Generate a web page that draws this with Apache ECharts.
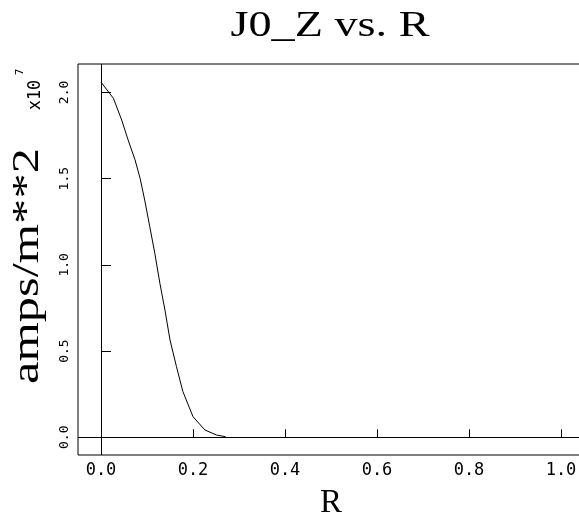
<!DOCTYPE html>
<html>
<head>
<meta charset="utf-8">
<script src="https://cdn.jsdelivr.net/npm/echarts@6/dist/echarts.min.js"></script>
<style>html,body{margin:0;padding:0;background:#fff}#c{width:579px;height:515px}</style>
</head>
<body>
<div id="c"></div>
<script>
// Data
var rValues = [0.0, 0.027, 0.045, 0.059, 0.074, 0.085, 0.095, 0.106, 0.117, 0.128, 0.139, 0.150, 0.164, 0.178, 0.200, 0.226, 0.251, 0.271];
var jzValues = [2.060e7, 1.966e7, 1.840e7, 1.724e7, 1.609e7, 1.502e7, 1.376e7, 1.222e7, 1.067e7, 0.893e7, 0.738e7, 0.564e7, 0.410e7, 0.265e7, 0.119e7, 0.042e7, 0.013e7, 0.003e7];
var xTicks = [0.0, 0.2, 0.4, 0.6, 0.8, 1.0];
var yTicks = [0, 0.5e7, 1.0e7, 1.5e7, 2.0e7];
var titleText = 'J0_Z vs. R';
var xName = 'R';
var yName = 'amps/m**2';
var yExponent = 'x10';
var yExponentPower = '7';

var seriesData = rValues.map(function (r, i) { return [r, jzValues[i]]; });

var chart = echarts.init(document.getElementById('c'), null, {renderer: 'canvas'});
chart.setOption({
  animation: false,
  backgroundColor: '#fff',
  grid: {left: 78, top: 64, right: -5, bottom: 60, show: true, borderColor: '#000', borderWidth: 1, outerBoundsMode: 'none'},
  xAxis: {
    type: 'value', min: -0.05, max: 1.05,
    name: xName, nameLocation: 'middle', nameGap: 32,
    nameTextStyle: {fontFamily: 'Liberation Serif', fontSize: 33, color: '#000'},
    axisLine: {show: false},
    axisTick: {show: true, inside: true, length: 8, lineStyle: {color: '#000'}, customValues: xTicks},
    axisLabel: {customValues: xTicks, margin: 7, fontFamily: 'DejaVu Sans Mono', fontSize: 17, color: '#000',
      formatter: function (v) { return v.toFixed(1); }},
    splitLine: {show: false}
  },
  yAxis: {
    type: 'value', min: -0.103e7, max: 2.165e7,
    axisLine: {show: false},
    axisTick: {show: true, inside: true, length: 10, lineStyle: {color: '#000'}, customValues: yTicks},
    axisLabel: {customValues: yTicks, rotate: 90, margin: 7, fontFamily: 'DejaVu Sans Mono', fontSize: 13, color: '#000',
      formatter: function (v) { return (v / 1e7).toFixed(1); }},
    splitLine: {show: false}
  },
  graphic: [
    {type: 'text', x: 330, y: 27, scaleX: 1.32, scaleY: 1,
     style: {text: titleText, font: '35px "Liberation Serif"', fill: '#000', align: 'center', verticalAlign: 'middle'}},
    {type: 'text', x: 28, y: 266, rotation: Math.PI / 2, scaleX: 1.33, scaleY: 1,
     style: {text: yName, font: '38px "Liberation Serif"', fill: '#000', align: 'center', verticalAlign: 'middle'}},
    {type: 'text', x: 36, y: 95, rotation: Math.PI / 2,
     style: {text: yExponent, font: '17px "DejaVu Sans Mono"', fill: '#000', align: 'center', verticalAlign: 'middle'}},
    {type: 'text', x: 20, y: 72, rotation: Math.PI / 2,
     style: {text: yExponentPower, font: '11px "DejaVu Sans Mono"', fill: '#000', align: 'center', verticalAlign: 'middle'}}
  ],
  series: [{
    type: 'line', data: seriesData, showSymbol: false, symbol: 'none',
    lineStyle: {color: '#000', width: 1},
    markLine: {
      silent: true, symbol: 'none', label: {show: false},
      lineStyle: {color: '#000', width: 1, type: 'solid'},
      data: [{xAxis: 0}, {yAxis: 0}]
    }
  }]
});
</script>
</body>
</html>
